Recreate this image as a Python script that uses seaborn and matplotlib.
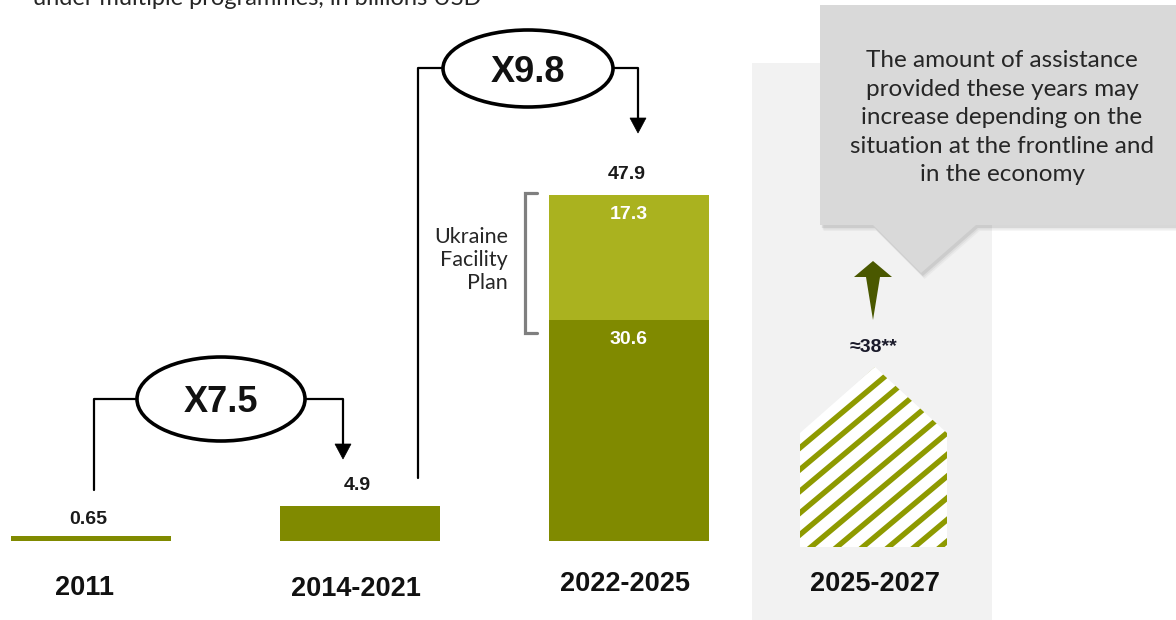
import numpy as np
import pandas as pd
import matplotlib
matplotlib.use("Agg")
import matplotlib.pyplot as plt
from matplotlib.patches import Ellipse, Polygon, Rectangle
from matplotlib.lines import Line2D
import seaborn as sns

# ---- data (billions USD) ----
periods = ["2011", "2014-2021", "2022-2025"]
totals = [0.65, 4.9, 47.9]
base_part = [0.65, 4.9, 30.6]
facility_part = [0.0, 0.0, 17.3]
forecast_label = "2025-2027"
forecast_text = "≈38**"
multipliers = ["X7.5", "X9.8"]
note_lines = ["The amount of assistance", "provided these years may",
              "increase depending on the", "situation at the frontline and",
              "in the economy"]
subtitle = "under multiple programmes, in billions USD"

DARK = "#808A00"
LIGHT = "#AAB21F"
STRIPE = "#8E9A00"
ARROW_GREEN = "#4A5800"

sns.set_theme(style="white")
plt.rcParams["font.family"] = ["Liberation Sans", "DejaVu Sans"]

W, H = 1176, 620
fig = plt.figure(figsize=(W / 100, H / 100), dpi=100)
ax = fig.add_axes([0, 0, 1, 1])

# layout: category spacing and vertical scale in pixels
X0, DX = 91.0, 269.0
Y0, DY = 541.0, 346.0 / 47.9
XL = (-X0 / DX, (W - X0) / DX)
YL = (-(H - Y0) / DY, Y0 / DY)


def P(px, py):
    """pixel position (origin top-left) -> data coordinates"""
    return ((px - X0) / DX, (Y0 - py) / DY)


def sx(px):
    return px / DX


def sy(py):
    return py / DY


df = pd.DataFrame({"period": periods, "total": totals, "base": base_part})

# stacked bars: full height in light colour, lower part in dark colour
sns.barplot(data=df, x="period", y="total", hue="period",
            palette=[DARK, DARK, LIGHT], width=0.595, saturation=1,
            legend=False, ax=ax, zorder=3, linewidth=0, edgecolor="none")
sns.barplot(data=df, x="period", y="base", color=DARK, width=0.595,
            saturation=1, ax=ax, zorder=4, linewidth=0, edgecolor="none")
ax.set_xlim(*XL)
ax.set_ylim(*YL)
ax.axis("off")

# grey background panel for the forecast period
bx, by = P(752, 620)
ax.add_patch(Rectangle((bx, by), sx(992 - 752), sy(620 - 63),
                       facecolor="#F2F2F2", edgecolor="none", zorder=0))

# value labels
lab_kw = dict(ha="center", va="baseline", fontweight="bold", zorder=6)
for i, v in enumerate(totals):
    pad = 2.2 if i else 1.7
    ax.text(i - 0.01, v + pad, f"{v:g}", fontsize=14, color="#1a1a1a", **lab_kw)
ax.text(2, base_part[2] + facility_part[2] - 3.3, f"{facility_part[2]:g}",
        fontsize=14, color="white", **lab_kw)
ax.text(2, base_part[2] - 3.3, f"{base_part[2]:g}",
        fontsize=14, color="white", **lab_kw)

# category labels
for i, (lab, py) in enumerate(zip(periods + [forecast_label], [595, 596, 591, 591])):
    xpos = [85, 356, 625, 875][i]
    ax.text(*P(xpos, py), lab, ha="center", va="baseline", fontsize=19.5,
            fontweight="bold", color="#111111", zorder=6)

# bracket and label for the Ukraine Facility part
bk = [P(537, 193), P(525, 193), P(525, 333), P(537, 333)]
ax.add_line(Line2D([p[0] for p in bk], [p[1] for p in bk], color="#7F7F7F",
                   lw=2.3, zorder=5, solid_joinstyle="miter"))
ax.text(*P(508, 260), "Ukraine\nFacility\nPlan", ha="right", va="center",
        fontsize=15.5, family=["Lato", "DejaVu Sans"], color="#262626",
        linespacing=1.2, zorder=6)


def connector(points, tip, ell_c, ell_w, ell_h, text):
    for seg in points:
        xs = [P(*p)[0] for p in seg]
        ys = [P(*p)[1] for p in seg]
        ax.add_line(Line2D(xs, ys, color="black", lw=1.6, zorder=6))
    tx, ty = tip
    ax.add_patch(Polygon([P(tx - 8, ty - 15), P(tx + 8, ty - 15), P(tx, ty)],
                         closed=True, facecolor="black", edgecolor="black",
                         lw=0.5, zorder=6))
    cx, cy = P(*ell_c)
    ax.add_patch(Ellipse((cx, cy), sx(ell_w), sy(ell_h), facecolor="white",
                         edgecolor="black", lw=2.6, zorder=7))
    ax.text(cx, cy, text, ha="center", va="center_baseline", fontsize=26,
            fontweight="bold", color="#111111", zorder=8)


connector(([(94, 490), (94, 399), (137, 399)],
           [(305, 399), (343, 399), (343, 452)]),
          (343, 459), (221, 399), 168, 84, multipliers[0])
connector(([(418, 478), (418, 68), (443, 68)],
           [(613, 68), (638, 68), (638, 126)]),
          (638, 133), (528, 68.5), 170, 77, multipliers[1])

# callout box with pointer and soft shadow
box = [(820, 5), (1190, 5), (1190, 225), (976, 225), (921, 273),
       (873, 225), (820, 225)]
for k, a in [(6, 0.05), (4.5, 0.08), (3, 0.12)]:
    ax.add_patch(Polygon([P(x + k * 0.6, y + k) for x, y in box], closed=True,
                         facecolor="#555555", edgecolor="none", alpha=a, zorder=1))
ax.add_patch(Polygon([P(x, y) for x, y in box], closed=True,
                     facecolor="#D9D9D9", edgecolor="none", zorder=2))
for j, line in enumerate(note_lines):
    ax.text(*P(1002, 67 + j * 28.6), line, ha="center", va="baseline",
            fontsize=17.5, family=["Lato", "DejaVu Sans"], color="#262626",
            zorder=6)

# upward arrow for the forecast
arr = [(873, 261), (892, 277), (880, 277), (873, 320), (866, 277), (854, 277)]
ax.add_patch(Polygon([P(*p) for p in arr], closed=True, facecolor=ARROW_GREEN,
                     edgecolor="none", zorder=5))
ax.text(*P(873, 352), forecast_text, ha="center", va="baseline", fontsize=14,
        fontweight="bold", color="#1a1a2a", zorder=6)

# striped house-shaped pictogram for the forecast period
house = Polygon([P(800, 547), P(800, 433), P(875, 367), P(947, 433), P(947, 547)],
                closed=True, facecolor="white", edgecolor="none", zorder=3)
ax.add_patch(house)
ang = np.deg2rad(40)
for off in np.arange(-200, 400, 21.7):
    x1, y1 = 790, 560 - off
    x2 = 960
    y2 = y1 - (x2 - x1) * np.tan(ang)
    ln = Line2D(*zip(P(x1, y1), P(x2, y2)), color=STRIPE, lw=3.9, zorder=4,
                solid_capstyle="butt")
    ax.add_line(ln)
    ln.set_clip_path(house)

# subtitle line at the top edge
ax.text(*P(33, 5), subtitle, ha="left", va="baseline", fontsize=17,
        family=["Lato", "DejaVu Sans"], color="#262626", zorder=6)

fig.savefig("out.png", dpi=100)
